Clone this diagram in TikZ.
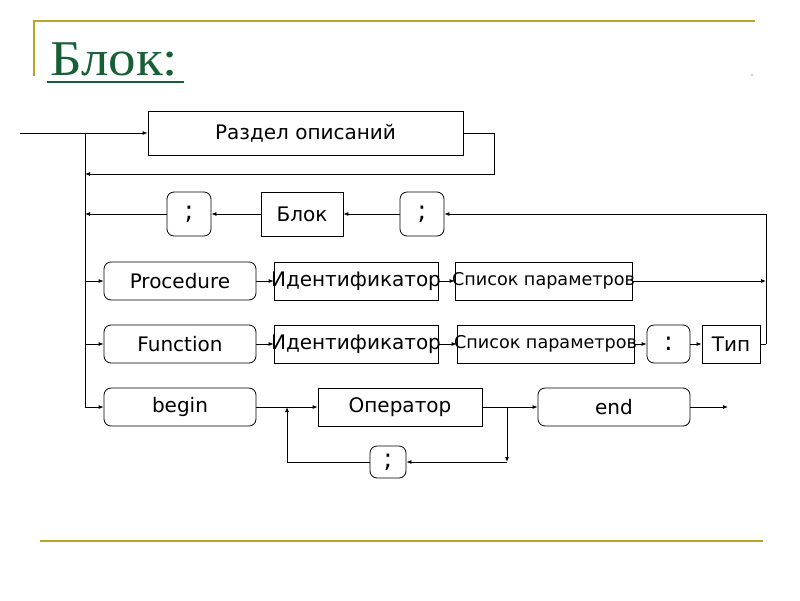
\documentclass[tikz,border=0pt]{standalone}
\usepackage{fontspec}
\setmainfont{DejaVu Sans}
\newfontfamily\titlefont{Liberation Serif}
\usetikzlibrary{arrows.meta}
\definecolor{gold}{RGB}{185,165,40}
\definecolor{ttl}{RGB}{22,95,55}
\newcommand{\fixw}[1]{\makebox[0pt]{#1}}
\tikzset{
  box/.style={draw,line width=0.8pt,inner sep=0pt,font=\fontsize{20}{22}\selectfont},
  rbox/.style={box,rounded corners=7pt},
  semi/.style={font=\fontsize{26}{28}\selectfont},
  spfont/.style={font=\fontsize{17.6}{20}\selectfont},
  arr/.style={line width=0.8pt,-{Latex[length=5pt,width=4pt]}},
  ln/.style={line width=0.8pt},
}
\begin{document}
\begin{tikzpicture}[x=1pt,y=-1pt]
\useasboundingbox (0,0) rectangle (800,600);
% frame decorations
\draw[gold,line width=1.6pt] (33,21) -- (755,21);
\draw[gold,line width=1.6pt] (34,21) -- (34,76);
\draw[gold,line width=1.6pt] (40,541) -- (763,541);
\fill[gold!70!gray] (752,75) circle (0.8);
\node[anchor=base west,inner sep=0pt,text=ttl,font=\titlefont\fontsize{50}{56}\selectfont,xscale=1.1] (title) at (50,75) {Блок:};
\draw[ttl,line width=2.2pt] (47,82) -- (184,82);
% nodes
\node[box,minimum width=315,minimum height=44] (razdel) at (305.5,133) {Раздел описаний};
\node[rbox,semi,minimum width=44,minimum height=44] (s1) at (189,214) {;};
\node[box,minimum width=82,minimum height=44] (blok) at (302,214) {Блок};
\node[rbox,semi,minimum width=44,minimum height=44] (s2) at (422,214) {;};
\node[rbox,minimum width=152,minimum height=38] (proc) at (180,281) {Procedure};
\node[box,minimum width=164,minimum height=38] (id1) at (356,281) {\fixw{Идентификатор}};
\node[box,spfont,minimum width=177,minimum height=38] (sp1) at (543.5,281) {\fixw{Список параметров}};
\node[rbox,minimum width=152,minimum height=38] (func) at (180,344) {Function};
\node[box,minimum width=164,minimum height=38] (id2) at (356,344) {\fixw{Идентификатор}};
\node[box,spfont,minimum width=177,minimum height=38] (sp2) at (545.5,344) {\fixw{Список параметров}};
\node[rbox,semi,minimum width=43,minimum height=38] (colon) at (668.5,344) {:};
\node[box,minimum width=58,minimum height=38] (tip) at (731,344) {Тип};
\node[rbox,minimum width=152,minimum height=38] (begin) at (180,407) {begin};
\node[box,minimum width=164,minimum height=38] (oper) at (400,407) {Оператор};
\node[rbox,minimum width=152,minimum height=38] (endn) at (614,407) {end};
\node[rbox,semi,minimum width=36,minimum height=32] (s3) at (388,462) {;};
% coordinates
\coordinate (in) at (20,133);
\coordinate (jtop) at (85,133);
\coordinate (jret) at (85,174);
\coordinate (jrow) at (85,214);
\coordinate (jbot) at (85,407);
\coordinate (rtop) at (766,214);
\coordinate (rproc) at (766,281);
\coordinate (rtip) at (766,344);
\coordinate (jup) at (287,407);
\coordinate (jdn) at (507,407);
\coordinate (jdnb) at (507,462);
\coordinate (jupb) at (287,462);
\coordinate (out) at (728,407);
% connectors
\draw[arr] (in) -- (razdel.west);
\draw[ln] (jtop) -- (jbot);
\draw[arr] (razdel.east) -- ++(31,0) |- (jret);
\draw[ln] (rtip) -- (rtop);
\draw[ln] (tip.east) -- (rtip);
\draw[arr] (rtop) -- (s2.east);
\draw[arr] (s2.west) -- (blok.east);
\draw[arr] (blok.west) -- (s1.east);
\draw[arr] (s1.west) -- (jrow);
\draw[arr] (jrow |- proc) -- (proc.west);
\draw[arr] (proc.east) -- (id1.west);
\draw[arr] (id1.east) -- (sp1.west);
\draw[arr] (sp1.east) -- (rproc);
\draw[arr] (jrow |- func) -- (func.west);
\draw[arr] (func.east) -- (id2.west);
\draw[arr] (id2.east) -- (sp2.west);
\draw[arr] (sp2.east) -- (colon.west);
\draw[arr] (colon.east) -- (tip.west);
\draw[arr] (jbot) -- (begin.west);
\draw[arr] (begin.east) -- (oper.west);
\draw[arr] (oper.east) -- (endn.west);
\draw[arr] (endn.east) -- (out);
\draw[arr] (jdn) -- (jdnb);
\draw[arr] (jdnb) -- (s3.east);
\draw[arr] (s3.west) -- (jupb) -- (jup);
\end{tikzpicture}
\end{document}
